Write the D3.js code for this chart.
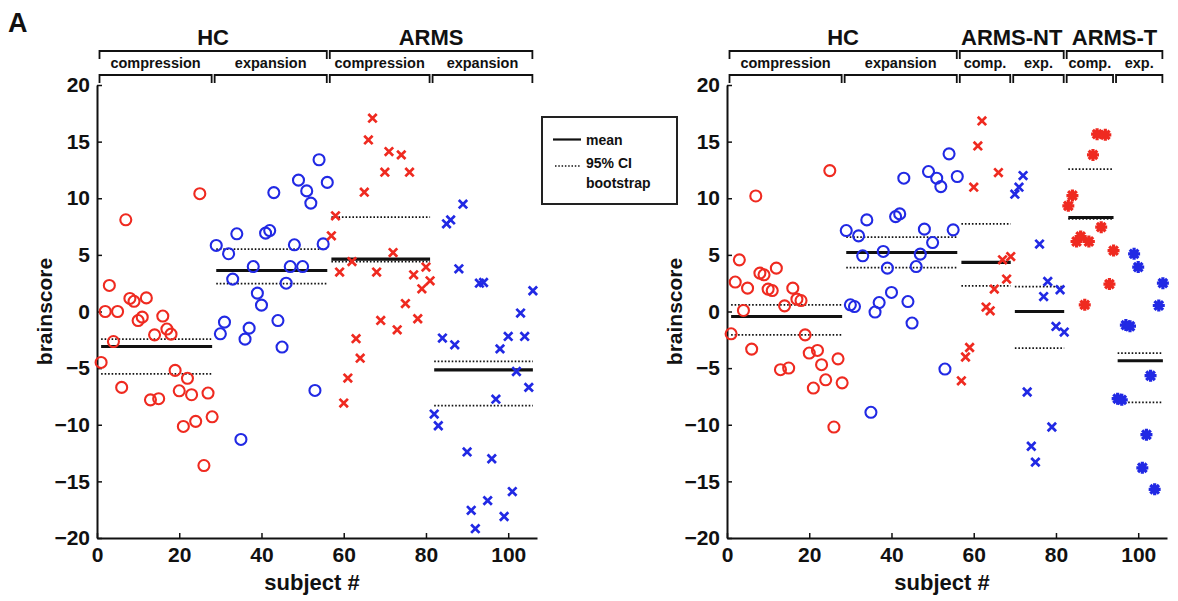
<!DOCTYPE html>
<html>
<head>
<meta charset="utf-8">
<script src="https://cdn.jsdelivr.net/npm/d3@7"></script>
<style>
body { margin: 0; background: #fff; }
svg text { font-family: "Liberation Sans", Arial, Helvetica, sans-serif; font-weight: bold; fill: #111; }
</style>
</head>
<body>
<svg id="fig" width="1178" height="601"></svg>
<script>
// brainscore per subject, subjects numbered consecutively inside each group

// left panel: HC / ARMS
const hcCompL = [-4.5, 0, 2.3, -2.65, 0, -6.7, 8.1, 1.15, 0.9, -0.8, -0.5, 1.2, -7.8, -2.06, -7.7, -0.4, -1.55, -2.0, -5.2, -7.0, -10.15, -5.9, -7.35, -9.7, 10.4, -13.6, -7.2, -9.3]
const hcExpL = [5.83, -1.97, -0.94, 5.1, 2.86, 6.86, -11.3, -2.44, -1.47, 3.97, 1.62, 0.56, 6.92, 7.15, 10.5, -0.8, -3.14, 2.5, 3.97, 5.89, 11.6, 3.97, 10.65, 9.57, -6.97, 13.4, 5.97, 11.4]
const armsCompL = [6.68, 8.45, 3.48, -8.09, -5.88, 4.41, -2.4, -4.12, 10.54, 15.15, 17.07, 3.48, -0.79, 12.3, 14.12, 5.2, -1.62, 13.83, 0.7, 12.3, 3.24, -0.64, 2.0, 3.92, 2.71]
const armsExpL = [-9.06, -10.09, -2.35, 7.74, 8.09, -2.94, 3.77, 9.48, -12.4, -17.56, -19.18, 2.5, 2.56, -16.7, -13, -7.74, -3.3, -18.1, -2.2, -15.9, -5.3, -0.14, -2.2, -6.7, 1.83]

// right panel: HC / ARMS-NT / ARMS-T
const hcCompR = [-1.97, 2.6, 4.56, 0.09, 2.06, -3.32, 10.2, 3.39, 3.24, 1.98, 1.85, 3.83, -5.14, 0.5, -4.99, 2.06, 1.09, 0.97, -2.06, -3.67, -6.76, -3.44, -4.7, -6.03, 12.44, -10.2, -4.18, -6.3]
const hcExpR = [7.15, 0.59, 0.44, 6.68, 4.92, 8.09, -8.9, -0.05, 0.79, 5.3, 3.83, 1.68, 8.38, 8.62, 11.77, 0.88, -1.02, 3.97, 5.07, 7.27, 12.36, 6.09, 11.77, 11.03, -5.08, 13.92, 7.21, 11.92]
const ntCompR = [-6.12, -4.02, -3.18, 10.98, 14.62, 16.83, 0.39, 0.06, 1.98, 12.27, 4.56, 2.86, 4.85]
const ntExpR = [10.36, 10.98, 12.0, -7.11, -11.9, -13.3, 5.95, 1.32, 2.65, -10.2, -1.32, 1.92, -1.82]
const tCompR = [9.33, 10.24, 6.18, 6.62, 0.59, 6.18, 13.83, 15.66, 7.45, 15.6, 2.42, 5.38]
const tExpR = [-7.7, -7.8, -1.2, -1.3, 5.09, 3.92, -13.8, -10.88, -5.67, -15.7, 0.53, 2.5]

// first subject number of each group
const startsL = [1, 29, 57, 82]
const startsR = [1, 29, 57, 70, 83, 95]

// group mean and 95% bootstrap CI
const meanL = [-3.09, 3.62, 4.62, -5.15]
const ciHiL = [-2.44, 5.5, 8.33, -4.41]
const ciLoL = [-5.5, 2.47, 4.41, -8.32]
const meanR = [-0.44, 5.21, 4.33, 0.0, 8.3, -4.35]
const ciHiR = [0.59, 6.57, 7.74, 2.2, 12.57, -3.67]
const ciLoR = [-2.06, 3.88, 2.27, -3.23, 8.18, -8.03]

const subLabelsL = ['compression', 'expansion', 'compression', 'expansion']
const subLabelsR = ['compression', 'expansion', 'comp.', 'exp.', 'comp.', 'exp.']
const topLabelsL = ['HC', 'ARMS']
const topLabelsR = ['HC', 'ARMS-NT', 'ARMS-T']
const topSpansL = [[0, 1], [2, 3]]
const topSpansR = [[0, 1], [2, 3], [4, 5]]

const yTicks = [-20, -15, -10, -5, 0, 5, 10, 15, 20]
const xTicks = [0, 20, 40, 60, 80, 100]

const RED = '#ef2a20'
const BLUE = '#2129e4'

const svg = d3.select('#fig')
const y = d3.scaleLinear().domain([-20, 20]).range([538, 85])

function marker(g, kind, color) {
	if(kind === 'o') {
		g.append('circle').attr('r', 5.5)
			.attr('fill', 'none').attr('stroke', color).attr('stroke-width', 2.1)
	}else if(kind === 'x') {
		g.append('path').attr('d', 'M-4.2,-4.2L4.2,4.2M-4.2,4.2L4.2,-4.2')
			.attr('stroke', color).attr('stroke-width', 2.7).attr('fill', 'none')
	}else {
		g.append('path').attr('d', 'M-6,0H6M0,-6V6M-4.3,-4.3L4.3,4.3M-4.3,4.3L4.3,-4.3')
			.attr('stroke', color).attr('stroke-width', 3.2).attr('fill', 'none')
	}
}

function drawPanel(p) {
	const x = d3.scaleLinear().domain([0, 107]).range([p.x0, p.x0 + 440])
	const g = svg.append('g')

	// axes
	const gy = g.append('g').attr('transform', `translate(${p.x0},0)`)
		.call(d3.axisLeft(y).tickValues(yTicks).tickSize(-5).tickSizeOuter(0).tickPadding(7))
	const gx = g.append('g').attr('transform', `translate(0,${y(-20)})`)
		.call(d3.axisBottom(x).tickValues(xTicks).tickSize(-5).tickSizeOuter(0).tickPadding(9))
	for(const a of [gy, gx]) {
		a.attr('font-size', 21).attr('font-family', null)
		a.select('.domain').attr('stroke', '#111').attr('stroke-width', 2)
		a.selectAll('.tick line').attr('stroke', '#111').attr('stroke-width', 1.5)
		a.selectAll('.tick text').attr('fill', '#111')
	}

	g.append('text').attr('x', (p.x0 + p.x0 + 440) / 2 - 5).attr('y', 590)
		.attr('text-anchor', 'middle').attr('font-size', 22).text('subject #')
	g.append('text').attr('transform', `translate(${p.x0 - 45},${y(0)}) rotate(-90)`)
		.attr('text-anchor', 'middle').attr('font-size', 21).text('brainscore')

	// brackets
	const spans = p.data.map((d, i) => {
		const s = p.starts[i]
		return [x(s - 1) + 2.5, x(s + d.length - 1) - 0.5]
	})
	const bracket = (a, b, yy) => {
		g.append('path').attr('d', `M${a},${yy + 8}V${yy}H${b}V${yy + 8}`)
			.attr('fill', 'none').attr('stroke', '#111').attr('stroke-width', 1.8)
	}
	spans.forEach((s, i) => {
		bracket(s[0], s[1], 75)
		g.append('text').attr('x', (s[0] + s[1]) / 2).attr('y', 68)
			.attr('text-anchor', 'middle').attr('font-size', 14.5).text(p.subLabels[i])
	})
	p.topSpans.forEach((t, i) => {
		const a = spans[t[0]][0], b = spans[t[1]][1]
		bracket(a, b, 51)
		g.append('text').attr('x', (a + b) / 2).attr('y', 45)
			.attr('text-anchor', 'middle').attr('font-size', 22).text(p.topLabels[i])
	})

	// mean and CI lines
	p.data.forEach((d, i) => {
		const a = x(p.starts[i]), b = x(p.starts[i] + d.length - 1)
		const line = (v, dotted) => g.append('line')
			.attr('x1', a).attr('x2', b).attr('y1', y(v)).attr('y2', y(v))
			.attr('stroke', '#111')
			.attr('stroke-width', dotted ? 1.8 : 3.2)
			.attr('stroke-dasharray', dotted ? '1.6,1.9' : null)
		line(p.ciHi[i], true)
		line(p.ciLo[i], true)
		line(p.mean[i], false)
	})

	// points
	p.data.forEach((d, i) => {
		const color = i % 2 === 0 ? RED : BLUE
		d.forEach((v, j) => {
			const m = g.append('g').attr('transform', `translate(${x(p.starts[i] + j)},${y(v)})`)
			marker(m, p.kinds[i], color)
		})
	})
}

drawPanel({
	x0: 97,
	data: [hcCompL, hcExpL, armsCompL, armsExpL],
	starts: startsL, mean: meanL, ciHi: ciHiL, ciLo: ciLoL,
	kinds: ['o', 'o', 'x', 'x'],
	subLabels: subLabelsL, topLabels: topLabelsL, topSpans: topSpansL
})

drawPanel({
	x0: 727,
	data: [hcCompR, hcExpR, ntCompR, ntExpR, tCompR, tExpR],
	starts: startsR, mean: meanR, ciHi: ciHiR, ciLo: ciLoR,
	kinds: ['o', 'o', 'x', 'x', '*', '*'],
	subLabels: subLabelsR, topLabels: topLabelsR, topSpans: topSpansR
})

// legend
const lg = svg.append('g')
lg.append('rect').attr('x', 542).attr('y', 117).attr('width', 135).attr('height', 87)
	.attr('fill', '#fff').attr('stroke', '#222').attr('stroke-width', 2)
lg.append('line').attr('x1', 553).attr('x2', 581).attr('y1', 139.5).attr('y2', 139.5)
	.attr('stroke', '#111').attr('stroke-width', 2.2)
lg.append('line').attr('x1', 555).attr('x2', 581).attr('y1', 166).attr('y2', 166)
	.attr('stroke', '#111').attr('stroke-width', 1.6).attr('stroke-dasharray', '1.5,1.8')
lg.append('text').attr('x', 586).attr('y', 145).attr('font-size', 14).text('mean')
lg.append('text').attr('x', 586).attr('y', 168).attr('font-size', 14).text('95% CI')
lg.append('text').attr('x', 586).attr('y', 188).attr('font-size', 14).text('bootstrap')

svg.append('text').attr('x', 8).attr('y', 32).attr('font-size', 27).text('A')
</script>
</body>
</html>
